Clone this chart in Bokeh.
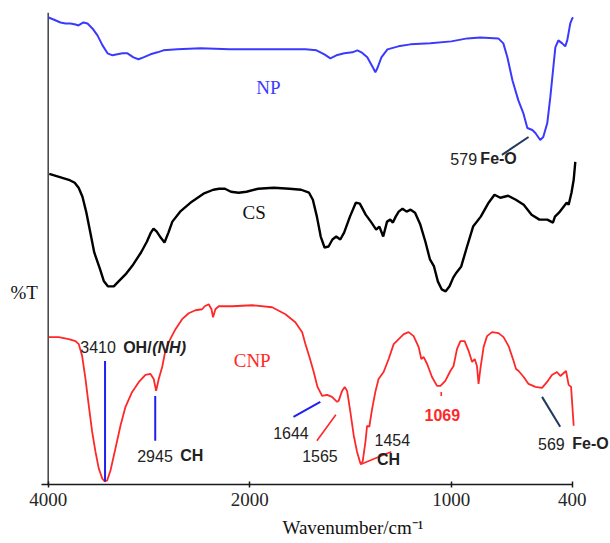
import numpy as np
from bokeh.plotting import figure
from bokeh.models import Range1d, FixedTicker, Label, Title
from bokeh.embed import file_html
from bokeh.resources import INLINE

# ---------------- data (wavenumber in cm-1, transmittance in arbitrary offset units) -------------
np_wn = [3997, 3947, 3878, 3828, 3779, 3729, 3700, 3650, 3610, 3561,
         3511, 3461, 3411, 3362, 3313, 3263, 3213, 3154, 3104, 3055,
         2985, 2916, 2857, 2718, 2489, 2200, 1883, 1724, 1669, 1630,
         1600, 1570, 1531, 1491, 1466, 1446, 1417, 1387, 1377, 1367,
         1347, 1317, 1263, 1203, 1104, 1000, 921, 856, 767, 742,
         722, 697, 668, 643, 623, 598, 583, 559, 544, 524,
         509, 494, 484, 469, 450, 435, 425, 410, 400, 396]
np_t = [469, 467, 464, 463, 463, 462, 461, 464, 463, 458,
        451, 441, 433, 431, 432, 433, 433, 429, 427, 429,
        432, 434, 436, 437, 438, 437, 437, 437, 436, 432,
        428, 431, 433, 434, 436, 434, 429, 418, 414, 418,
        429, 437, 440, 442, 443, 445, 448, 449, 448, 443,
        429, 406, 386, 373, 358, 356, 353, 346, 349, 363,
        389, 419, 439, 446, 443, 440, 446, 463, 468, 469]

cs_wn = [3989, 3892, 3795, 3737, 3698, 3660, 3621, 3582, 3543, 3485,
         3447, 3408, 3349, 3311, 3233, 3156, 3079, 3020, 2981, 2955,
         2923, 2884, 2846, 2807, 2768, 2691, 2575, 2459, 2362, 2304,
         2246, 2187, 2110, 2033, 1958, 1881, 1803, 1745, 1706, 1687,
         1667, 1648, 1629, 1609, 1590, 1571, 1551, 1532, 1503, 1474,
         1454, 1425, 1396, 1373, 1357, 1338, 1319, 1303, 1290, 1276,
         1261, 1242, 1222, 1202, 1180, 1154, 1129, 1106, 1086, 1067,
         1048, 1028, 1009, 990, 974, 951, 922, 892, 854, 815,
         786, 757, 718, 680, 641, 602, 563, 524, 496, 486,
         466, 447, 428, 418, 404, 393, 385]
cs_t = [312, 309, 306, 303, 298, 289, 273, 253, 233, 216,
        204, 199, 199, 203, 211, 221, 233, 244, 253, 257,
        254, 248, 243, 253, 264, 274, 284, 292, 296, 297,
        297, 294, 293, 294, 297, 298, 297, 296, 293, 286,
        269, 249, 238, 239, 246, 249, 246, 253, 269, 283,
        282, 271, 263, 256, 259, 249, 264, 266, 263, 269,
        274, 277, 274, 276, 273, 261, 244, 226, 219, 204,
        196, 194, 199, 208, 213, 219, 239, 259, 269, 283,
        291, 288, 290, 286, 281, 271, 266, 266, 263, 269,
        273, 278, 283, 281, 293, 306, 324]

cnp_wn = [3994, 3895, 3796, 3729, 3697, 3663, 3630, 3597, 3564, 3531,
          3498, 3464, 3439, 3415, 3382, 3333, 3283, 3233, 3167, 3100,
          3035, 2985, 2953, 2929, 2903, 2869, 2844, 2804, 2737, 2671,
          2606, 2539, 2473, 2447, 2407, 2380, 2364, 2341, 2308, 2175,
          1988, 1889, 1823, 1774, 1740, 1724, 1704, 1684, 1664, 1641,
          1616, 1592, 1567, 1559, 1542, 1529, 1517, 1501, 1484, 1468,
          1451, 1440, 1426, 1418, 1407, 1393, 1377, 1361, 1336, 1311,
          1286, 1261, 1236, 1212, 1187, 1162, 1149, 1137, 1120, 1096,
          1071, 1054, 1030, 1005, 989, 972, 955, 934, 914, 897,
          884, 873, 865, 856, 840, 823, 798, 766, 741, 716,
          691, 679, 666, 641, 617, 583, 550, 525, 501, 476,
          459, 448, 431, 418, 406, 393]
cnp_t = [148, 148, 146, 144, 141, 129, 106, 79, 53, 33,
         16, 6, 3, 4, 14, 36, 59, 78, 93, 103,
         110, 111, 106, 94, 106, 118, 131, 143, 156, 166,
         172, 175, 176, 179, 181, 176, 168, 176, 179, 179,
         180, 178, 171, 163, 153, 141, 128, 114, 98, 89,
         90, 88, 83, 84, 94, 98, 94, 73, 49, 33,
         21, 23, 43, 59, 58, 76, 93, 106, 113, 126,
         141, 146, 151, 153, 149, 138, 126, 128, 121, 108,
         99, 99, 104, 114, 119, 136, 144, 144, 134, 123,
         126, 119, 101, 116, 138, 149, 153, 152, 148, 139,
         124, 116, 114, 108, 101, 98, 97, 103, 110, 113,
         109, 111, 114, 100, 98, 59]

tick_wn = [4000, 2000, 1000, 400]
tick_labels = ["4000", "2000", "1000", "400"]


def to_u(w):
    """FTIR axis with a scale change at 2000 cm-1 (half scale above 2000)."""
    w = np.asarray(w, dtype=float)
    return np.where(w >= 2000, (4000 - w) / 2.0, 1000 + (2000 - w))


BLUE = "#3a3aff"
RED = "#ff2828"
DARK = "#222222"
NAVY = "#1f3a5c"
SERIF = "Liberation Serif"

p = figure(width=610, height=543, output_backend="svg", toolbar_location=None,
           x_range=Range1d(-236.6, 2789.6), y_range=Range1d(0, 474),
           min_border_left=0, min_border_right=0, min_border_top=12, min_border_bottom=57)
p.outline_line_color = None
p.grid.visible = False
p.background_fill_color = "white"
p.border_fill_color = "white"
p.yaxis.visible = False

# vertical %T axis line at 4000 cm-1
p.segment(x0=[float(to_u(4000))], y0=[0], x1=[float(to_u(4000))], y1=[474],
          line_color="#404040", line_width=1.5)

# curves
p.line(to_u(np_wn), np_t, line_color=BLUE, line_width=2)
p.line(to_u(cs_wn), cs_t, line_color="#000000", line_width=2.4)
p.line(to_u(cnp_wn), cnp_t, line_color=RED, line_width=1.8)

# x axis
xa = p.xaxis[0]
tu = [float(v) for v in to_u(tick_wn)]
xa.ticker = FixedTicker(ticks=tu, minor_ticks=[])
xa.major_label_overrides = {t: s for t, s in zip(tu, tick_labels)}
xa.bounds = (-35, 2600)
xa.axis_line_color = "#1a1a1a"
xa.axis_line_width = 1.5
xa.major_tick_line_color = "#1a1a1a"
xa.major_tick_line_width = 1.5
xa.major_tick_in = 3
xa.major_tick_out = 3
xa.minor_tick_line_color = None
xa.major_label_text_font = SERIF
xa.major_label_text_font_size = "19px"
xa.major_label_text_color = "#262626"
xa.major_label_standoff = 5

p.add_layout(Title(text="Wavenumber/cm\u207b\u00b9", align="left", offset=282,
                   text_font=SERIF, text_font_size="19px", text_font_style="normal",
                   text_color="#111111", standoff=12), "below")


def lab(text, wn, t, font="Liberation Sans", size="16px", style="normal", color=DARK,
        align="left"):
    p.add_layout(Label(x=float(to_u(wn)), y=t, text=text, text_font=font, text_font_size=size,
                       text_font_style=style, text_color=color, text_align=align,
                       text_baseline="middle"))


def seg(w0, t0, w1, t1, color, width):
    p.segment(x0=[float(to_u(w0))], y0=[t0], x1=[float(to_u(w1))], y1=[t1],
              line_color=color, line_width=width)


# series names and y title
lab("NP", 1908, 399, font=SERIF, size="19px", color=BLUE, align="center")
lab("CS", 1978, 273, font=SERIF, size="19px", color="#111111", align="center")
lab("CNP", 1988, 125, font=SERIF, size="19px", color=RED, align="center")
lab("%T", 4238, 193, font=SERIF, size="19px", color="#111111", align="center")

# peak annotations
lab("579", 1005, 327)
lab("Fe-O", 856, 327, style="bold")
seg(617, 349, 749, 331, NAVY, 2)

lab("3410", 3682, 138)
lab("OH/", 3256, 138, style="bold")
lab("(NH)", 2968, 138, style="bold italic")
seg(3436, 124, 3436, 3, "#2020f0", 2)

lab("2945", 3117, 29)
lab("CH", 2690, 29, style="bold")
seg(2938, 89, 2938, 44, "#2020f0", 2)

lab("1644", 1884, 52)
seg(1783, 68, 1650, 83, "#2020f0", 2)

lab("1565", 1740, 29)
seg(1667, 44, 1573, 70, RED, 1.6)

lab("1454", 1381, 45)
lab("CH", 1369, 25, style="bold")
seg(1452, 20, 1298, 33, RED, 1.6)

lab("1069", 1133, 70, style="bold", color=RED)
seg(1050, 93, 1050, 89, RED, 1.6)

lab("569", 570, 41)
lab("Fe-O", 400, 41, style="bold")
seg(550, 88, 460, 58, NAVY, 2)

open("out.html", "w").write(file_html(p, INLINE))
